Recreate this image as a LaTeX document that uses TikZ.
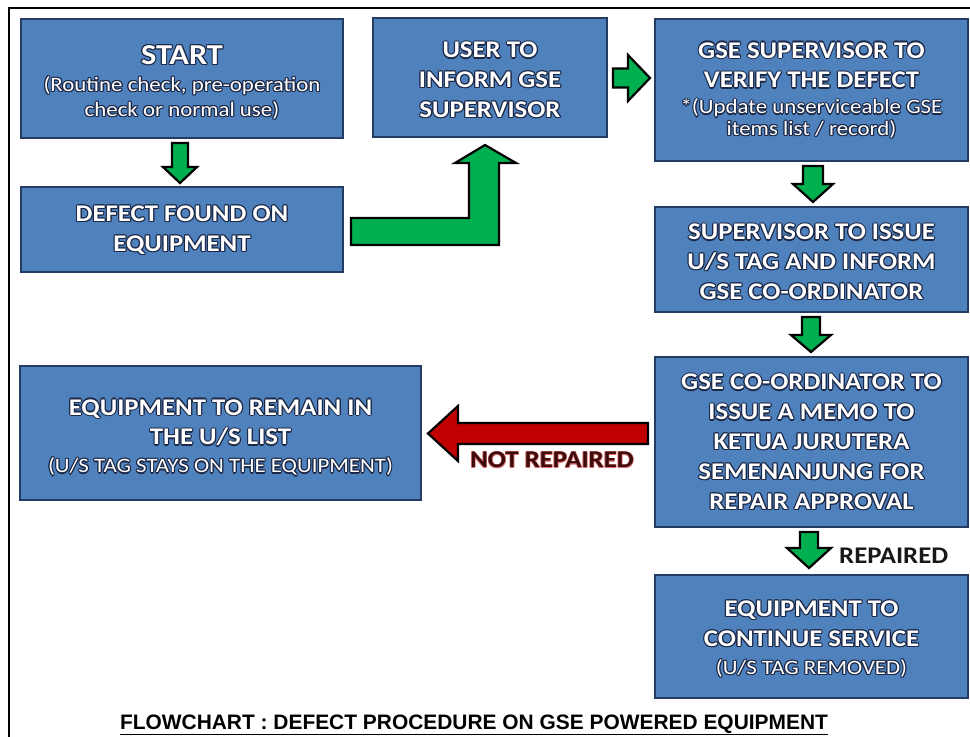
\documentclass[tikz,border=0pt]{standalone}
\usepackage{fontspec}
\setmainfont{Carlito}
\newfontfamily\boxfont[FakeStretch=1.12]{Carlito}
\newfontfamily\titlefont{Liberation Sans}
\usetikzlibrary{calc}
\definecolor{boxfill}{RGB}{79,129,189}
\definecolor{boxline}{RGB}{36,60,100}
\definecolor{glowc}{RGB}{28,40,70}
\definecolor{arrgreen}{RGB}{0,176,80}
\definecolor{arrred}{RGB}{192,0,0}
\definecolor{nrtext}{RGB}{60,12,12}
\definecolor{nrglow}{RGB}{220,110,110}
\tikzset{
  box/.style={draw=boxline, fill=boxfill, line width=2bp, inner sep=0pt},
  txt/.style={align=center, inner sep=0pt, font=\boxfont\bfseries\fontsize{24}{30}\selectfont},
  garrow/.style={draw=black, fill=arrgreen, line width=2.2bp, line join=miter},
  rarrow/.style={draw=black, fill=arrred, line width=2.2bp, line join=miter},
  frame/.style={draw=black, line width=2.5bp},
}
\newcommand\headsz{\fontsize{29}{30}\selectfont}
\newcommand\subsz{\fontsize{20.5}{30}\selectfont\mdseries}
\newcommand\glowtxt[6][glowc]{%
  \foreach \gx/\gy in {-#6/0,#6/0,0/-#6,0/#6,-0.7*#6/-0.7*#6,0.7*#6/0.7*#6,-0.7*#6/0.7*#6,0.7*#6/-0.7*#6}{
    \node[txt,text=#1] at ($(#2)+(\gx,\gy)$) {#4};}
  \node[txt,text=#5] (#3) at (#2) {#4};}
\newcommand\darrow[6]{%
  \draw[garrow] (#1-#5,#2) -- (#1+#5,#2) -- (#1+#5,#3) -- (#1+#6,#3) -- (#1,#4)
    -- (#1-#6,#3) -- (#1-#5,#3) -- cycle;}
\begin{document}
\begin{tikzpicture}[x=1bp,y=-1bp]
\useasboundingbox (0,0) rectangle (970,737);
\fill[white] (0,0) rectangle (970,737);
\draw[frame] (9,740) -- (9,8) -- (975,8);

% boxes
\node[box, minimum width=322bp, minimum height=119bp] (start)  at (182,78.5) {};
\node[box, minimum width=322bp, minimum height=85bp]  (defect) at (182,229) {};
\node[box, minimum width=234bp, minimum height=119bp] (user)   at (490,77.5) {};
\node[box, minimum width=313bp, minimum height=141bp] (verify) at (811.5,90) {};
\node[box, minimum width=313bp, minimum height=105bp] (issue)  at (811.5,259) {};
\node[box, minimum width=313bp, minimum height=170bp] (coord)  at (811.5,442) {};
\node[box, minimum width=401bp, minimum height=134bp] (remain) at (220.5,433) {};
\node[box, minimum width=313bp, minimum height=123bp] (cont)   at (811.5,636.5) {};

% text anchor points
\coordinate (startC)  at ($(start)+(0,4)$);
\coordinate (defectC) at ($(defect)+(0,1)$);
\coordinate (userC)   at ($(user)+(0,2.5)$);
\coordinate (verifyC) at ($(verify)+(0,0.5)$);
\coordinate (issueC)  at ($(issue)+(0,3)$);
\coordinate (coordC)  at ($(coord)+(0,0)$);
\coordinate (remainC) at ($(remain)+(0,4.5)$);
\coordinate (contC)   at ($(cont)+(0,2.5)$);

% texts
\glowtxt{startC}{startT}{\headsz START\\[-3pt]\subsz (Routine check, pre-operation\\[-5pt]\subsz check or normal use)}{white}{1.2}
\glowtxt{defectC}{defectT}{DEFECT FOUND ON\\EQUIPMENT}{white}{1.2}
\glowtxt{userC}{userT}{USER TO\\INFORM GSE\\SUPERVISOR}{white}{1.2}
\glowtxt{verifyC}{verifyT}{GSE SUPERVISOR TO\\VERIFY THE DEFECT\\[-4pt]\subsz *(Update unserviceable GSE\\[-8pt]\subsz items list / record)}{white}{1.2}
\glowtxt{issueC}{issueT}{SUPERVISOR TO ISSUE\\U/S TAG AND INFORM\\GSE CO-ORDINATOR}{white}{1.2}
\glowtxt{coordC}{coordT}{GSE CO-ORDINATOR TO\\ISSUE A MEMO TO\\KETUA JURUTERA\\SEMENANJUNG FOR\\REPAIR APPROVAL}{white}{1.2}
\glowtxt{remainC}{remainT}{EQUIPMENT TO REMAIN IN\\THE U/S LIST\\[-2pt]\subsz (U/S TAG STAYS ON THE EQUIPMENT)}{white}{1.2}
\glowtxt{contC}{contT}{EQUIPMENT TO\\CONTINUE SERVICE\\[-2pt]\subsz (U/S TAG REMOVED)}{white}{1.2}

% green down arrows
\darrow{180}{143}{167}{183}{8}{17}
\darrow{813}{166}{184}{202}{10}{20}
\darrow{811}{317}{335}{352}{9}{20}
\darrow{809}{532}{548}{568}{9}{22}

% right arrow user -> verify
\draw[garrow] (613,68.5) -- (628,68.5) -- (628,55) -- (650,78) -- (628,101)
  -- (628,87.5) -- (613,87.5) -- cycle;

% L arrow defect -> user
\draw[garrow] (351,218) -- (469,218) -- (469,163) -- (455,163) -- (485,145)
  -- (516,163) -- (499,163) -- (499,245) -- (351,245) -- cycle;

% red arrow coord -> remain
\draw[rarrow] (648,423) -- (458,423) -- (458,406) -- (428,433.5) -- (458,461)
  -- (458,444) -- (648,444) -- cycle;

% labels
\coordinate (nrpos) at (552,460);
\glowtxt[nrglow]{nrpos}{nrT}{NOT REPAIRED}{nrtext}{0.6}
\node[txt, text=black!90, anchor=base west] (rep) at (839,563) {REPAIRED};

% title
\node[inner sep=0pt, anchor=base, font=\titlefont\bfseries\fontsize{21}{24}\selectfont] (title) at (474,729)
  {\underline{FLOWCHART : DEFECT PROCEDURE ON GSE POWERED EQUIPMENT}};
\end{tikzpicture}
\end{document}
